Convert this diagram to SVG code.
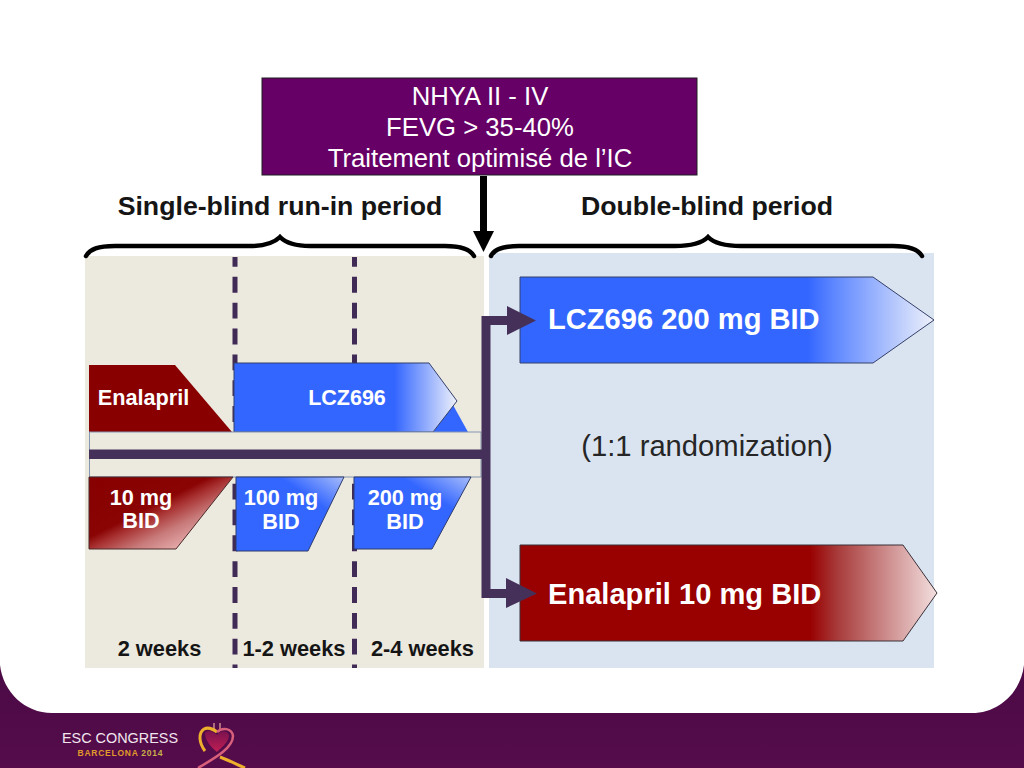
<svg xmlns="http://www.w3.org/2000/svg" width="1024" height="768" viewBox="0 0 1024 768">
<style>
.s{font-family:"Liberation Sans",Arial,sans-serif}
.b{font-weight:700}
.w{fill:#fff;font-weight:700;font-family:"Liberation Sans",Arial,sans-serif}
.h{font-size:26.7px;font-weight:700;fill:#151515;text-anchor:middle;font-family:"Liberation Sans",Arial,sans-serif}
.wk{font-size:21.8px;font-weight:700;fill:#151515;text-anchor:middle;font-family:"Liberation Sans",Arial,sans-serif}
.t{font-size:25.7px;fill:#fff;text-anchor:middle;font-family:"Liberation Sans",Arial,sans-serif}
.m{font-size:21.7px;text-anchor:middle}
.brace{fill:none;stroke:#000;stroke-width:4.500;stroke-linecap:round}
.dash{stroke:#3f2b55;stroke-width:5;stroke-dasharray:15.85 10;stroke-dashoffset:6;fill:none}
.pipe{stroke:#45305a;stroke-width:9;fill:none}
</style>
<defs>
<linearGradient id="blueBig" x1="0" x2="1" y1="0" y2="0"><stop offset="0" stop-color="#3366ff"/><stop offset=".695" stop-color="#3366ff"/><stop offset=".76" stop-color="#5f88ff"/><stop offset="1" stop-color="#eef1fb"/></linearGradient>
<linearGradient id="blueMid" x1="0" x2="1" y1="0" y2="0"><stop offset="0" stop-color="#3366ff"/><stop offset=".72" stop-color="#3366ff"/><stop offset="1" stop-color="#eef1fb"/></linearGradient>
<linearGradient id="blueSm" x1="0" x2="1" y1="1" y2="0"><stop offset="0" stop-color="#3366ff"/><stop offset=".7" stop-color="#3366ff"/><stop offset="1" stop-color="#a8bdfa"/></linearGradient>
<linearGradient id="redBig" x1="0" x2="1" y1="0" y2="0"><stop offset="0" stop-color="#990000"/><stop offset=".695" stop-color="#990000"/><stop offset=".76" stop-color="#a83a3a"/><stop offset="1" stop-color="#f3dfdf"/></linearGradient>
<linearGradient id="redSm" x1="0" x2="1" y1="0" y2="1"><stop offset="0" stop-color="#880000"/><stop offset=".42" stop-color="#8a0404"/><stop offset=".5" stop-color="#a83030"/><stop offset=".65" stop-color="#c87a7a"/><stop offset=".85" stop-color="#eeb8b8"/></linearGradient>
<linearGradient id="foot" x1="0" x2="0" y1="0" y2="1"><stop offset="0" stop-color="#4a0a45"/><stop offset="1" stop-color="#560c4b"/></linearGradient>
<linearGradient id="heart" x1="0" x2="0" y1="0" y2="1"><stop offset="0" stop-color="#7a1250"/><stop offset="1" stop-color="#c01e52"/></linearGradient>
</defs>
<rect width="1024" height="768" fill="#fff"/>
<g id="footer">
<path d="M0 665C3 692 25 713 52 713H972C999 713 1021 692 1024 665V768H0Z" fill="url(#foot)"/>
<text x="120" y="743" class="s" font-size="15.5" fill="#f1e6ee" text-anchor="middle" textLength="116" lengthAdjust="spacingAndGlyphs">ESC CONGRESS</text>
<text x="120" y="756" class="s b" font-size="8.500" fill="#e09a2c" text-anchor="middle" textLength="85" lengthAdjust="spacing">BARCELONA <tspan fill="#c6b04a">2014</tspan></text>
<path d="M205 733C208 729 214 732 217 735C221 730 227 730 229 735C229 742 222 747 217 752C212 748 205 741 205 733Z" fill="url(#heart)"/>
<path d="M214 723V731M220 723V731" stroke="#e8b0a0" stroke-width="1.200" fill="none"/>
<path d="M205 751C199 743 198 733 204 729C208 727 213 729 217 732" fill="none" stroke="#eeb02c" stroke-width="3"/>
<path d="M217 732C222 727 232 728 233 736C233 748 215 758 198 768" fill="none" stroke="#d8607a" stroke-width="2.500"/>
<path d="M220 757C228 760 238 765 245 768" fill="none" stroke="#eeb02c" stroke-width="3"/>
</g>
<g id="panels">
<rect x="85" y="256" width="399" height="412" fill="#ece9df"/>
<rect x="489" y="253" width="445" height="415" fill="#dae4f0"/>
</g>
<g id="connectors">
<line class="dash" x1="235" y1="257" x2="235" y2="668"/>
<line class="dash" x1="354.500" y1="257" x2="354.500" y2="668"/>
</g>
<g id="lcz-stub"><path d="M433 432L453 405L468 432Z" fill="#3366ff"/></g>
<g id="lcz696">
<path d="M234 363H429L457 401L433 432H234Z" fill="url(#blueMid)" stroke="#34406a"/>
<text x="347" y="405" class="w" font-size="21.500" text-anchor="middle">LCZ696</text>
</g>
<g id="enalapril">
<path d="M89 365H175L232 432H89Z" fill="#880000"/>
<text x="143.500" y="405" class="w" font-size="21.700" text-anchor="middle">Enalapril</text>
</g>
<g id="band">
<rect x="89.500" y="432" width="391.500" height="45" fill="#ece9df" stroke="#8496b0" stroke-width="1"/>
<rect x="89" y="449.500" width="396" height="9.500" fill="#45305a"/>
</g>
<g id="dose-10">
<path d="M89 477H233L176 549H89Z" fill="url(#redSm)" stroke="#4a2a2a"/>
<text class="w m"><tspan x="141" y="505">10 mg</tspan><tspan x="141" y="528">BID</tspan></text>
</g>
<g id="dose-100">
<path d="M236 477H344L308 551H236Z" fill="url(#blueSm)" stroke="#2c3a6b"/>
<text class="w m"><tspan x="281" y="505">100 mg</tspan><tspan x="281" y="529">BID</tspan></text>
</g>
<g id="dose-200">
<path d="M354 477H471L432 549H354Z" fill="url(#blueSm)" stroke="#2c3a6b"/>
<text class="w m"><tspan x="405" y="505">200 mg</tspan><tspan x="405" y="529">BID</tspan></text>
</g>
<g id="lcz-200">
<path d="M520 277H873L934 320L873 363H520Z" fill="url(#blueBig)" stroke="#34406a"/>
<text x="548" y="329" class="w" font-size="29.100">LCZ696 200 mg BID</text>
</g>
<g id="enalapril-10">
<path d="M520 545H903L937 593L903 641H520Z" fill="url(#redBig)" stroke="#3a3038"/>
<text x="548" y="604" class="w" font-size="29.100">Enalapril 10 mg BID</text>
</g>
<g id="arrows">
<path class="pipe" d="M510 320.500H486V593.500H510"/>
<path d="M507 306L536 320.500L507 335ZM506 578L537 593.500L506 608Z" fill="#45305a"/>
</g>
<g id="main-arrow">
<rect x="480" y="176" width="7" height="57" fill="#000"/>
<path d="M473 231H494L483.500 252Z" fill="#000"/>
</g>
<g id="braces">
<path class="brace" d="M86 256C90 249 98 246 115 246H250C265 246 274 243 280 237C286 243 295 246 310 246H445C460 246 470 249 474 256"/>
<path class="brace" d="M491 256C494 249 504 246 519 246H675C690 246 702 243 708 237C714 243 726 246 741 246H893C908 246 918 249 922 256"/>
</g>
<g id="criteria">
<rect x="262" y="78" width="435" height="97" fill="#660066" stroke="#1f1f1f"/>
<text class="t"><tspan x="480" y="105">NHYA II - IV</tspan><tspan x="480" y="136">FEVG &gt; 35-40%</tspan><tspan x="480" y="167">Traitement optimisé de l’IC</tspan></text>
</g>
<g id="labels">
<text x="280" y="215" class="h">Single-blind run-in period</text>
<text x="707" y="215" class="h">Double-blind period</text>
<text x="707" y="456" class="s" font-size="29.200" fill="#262626" text-anchor="middle">(1:1 randomization)</text>
<text x="159.500" y="656" class="wk">2 weeks</text>
<text x="294" y="656" class="wk">1-2 weeks</text>
<text x="422.500" y="656" class="wk">2-4 weeks</text>
</g>
</svg>
